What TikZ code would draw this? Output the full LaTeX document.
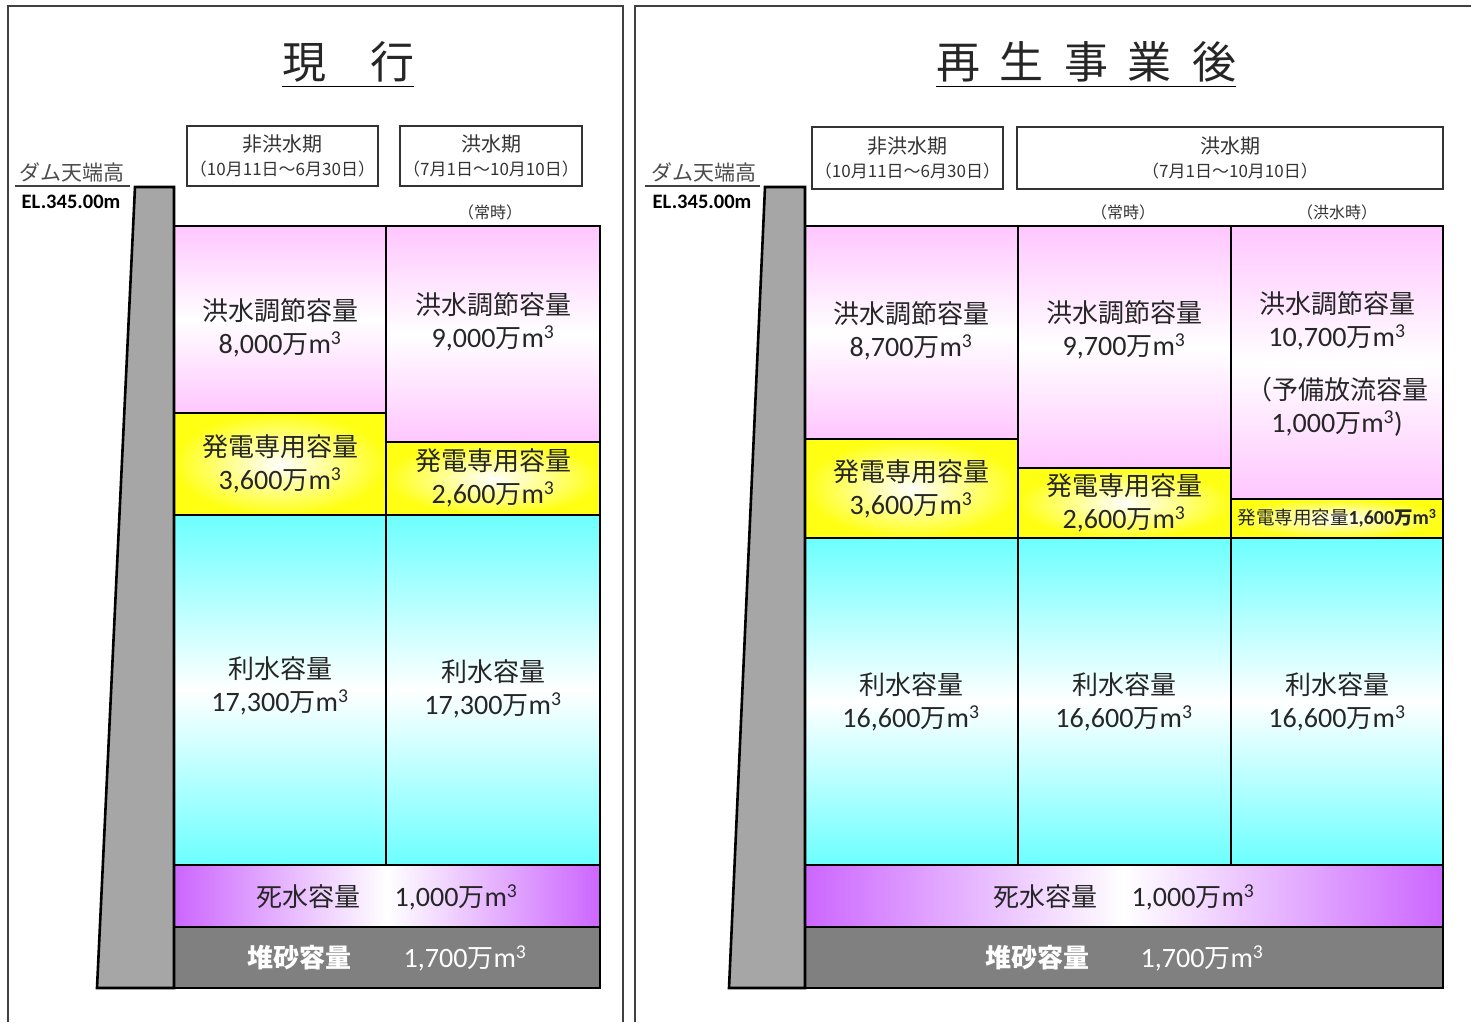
\documentclass[tikz,border=0pt]{standalone}
\usepackage{fontspec}
\setmainfont{Noto Sans CJK JP}
\newfontfamily\lat[Scale=1.08]{Carlito}
\usetikzlibrary{positioning}
\definecolor{floodpink}{HTML}{FFC6FF}
\definecolor{powyellow}{HTML}{FFFF14}
\definecolor{watercyan}{HTML}{6CFFFF}
\definecolor{deadpurple}{HTML}{CC66FF}
\definecolor{sedgray}{HTML}{808080}
\definecolor{damgray}{HTML}{A6A6A6}
\newcommand{\vol}[1]{{\lat #1}万{\lat m\textsuperscript{3}}}
\tikzset{
    frame/.style={draw=black!75, line width=1.5pt},
    cellbox/.style={draw=black, line width=2.6pt},
    flood/.style={cellbox, top color=floodpink, bottom color=floodpink, middle color=white},
    power/.style={cellbox, inner color=white, outer color=powyellow},
    water/.style={cellbox, top color=watercyan, bottom color=watercyan, middle color=white},
    dead/.style={cellbox, left color=deadpurple, right color=deadpurple, middle color=white},
    sediment/.style={cellbox, fill=sedgray},
    dam/.style={draw=black, line width=2.6pt, fill=damgray},
    vlabel/.style={font=\fontsize{26}{33}\selectfont, text=black!85, align=center, inner sep=0pt},
    sedlabel/.style={vlabel, text=white},
    season/.style={draw=black!80, line width=1.5pt, align=center, inner sep=0pt,
                   font=\fontsize{20}{24}\selectfont, text=black!80},
    ttl/.style={font=\fontsize{44}{44}\selectfont, inner sep=0pt, text=black!85},
    note/.style={font=\fontsize{16}{18}\selectfont, inner sep=0pt, text=black!80},
    crest/.style={font=\fontsize{21}{24}\selectfont, inner sep=0pt, text=black!70},
    elev/.style={font=\lat\bfseries\fontsize{19}{22}\selectfont, inner sep=0pt}}
\newcommand{\dates}[1]{{\fontsize{17}{20}\selectfont #1}}

\begin{document}
\begin{tikzpicture}[x=1pt, y=-1pt]
    \useasboundingbox (0,0) rectangle (1471,1022);

    % panels
    \draw[frame] (8,1022) -- (8,6) -- (623,6) -- (623,1022);
    \draw[frame] (635,1022) -- (635,6) -- (1471,6);

    %%% current
    \node[ttl] (ttlnow) at (348,62) {現　行};
    \draw[line width=1.5pt] ([yshift=-4pt]ttlnow.south west) -- ([yshift=-4pt]ttlnow.south east);

    \node[season, minimum width=191, minimum height=60] (dry1) at (282.5,156)
        {非洪水期\\\dates{（10月11日～6月30日）}};
    \node[season, minimum width=182, minimum height=60] (wet1) at (491,156)
        {洪水期\\\dates{（7月1日～10月10日）}};
    \node[note] (normal1) at (490,212) {（常時）};

    \node[crest] (crest1) at (72,172) {ダム天端高};
    \coordinate (cl1) at (15,186);
    \coordinate (cr1) at (130,186);
    \draw[line width=1.5pt, black!75] (cl1) -- (cr1);
    \node[elev] (el1) at (71,202) {EL.345.00m};

    \draw[flood] (174,226) rectangle (386,413);
    \draw[power] (174,413) rectangle (386,515);
    \draw[water] (174,515) rectangle (386,865);
    \draw[flood] (386,226) rectangle (600,442);
    \draw[power] (386,442) rectangle (600,515);
    \draw[water] (386,515) rectangle (600,865);
    \draw[dead] (174,865) rectangle (600,927);
    \draw[sediment] (174,927) rectangle (600,988);
    \draw[dam] (135,187) -- (174,187) -- (174,988) -- (97,988) -- cycle;

    \node[vlabel] (fl1) at (280,328) {洪水調節容量\\\vol{8,000}};
    \node[vlabel] (fl2) at (493,322) {洪水調節容量\\\vol{9,000}};
    \node[vlabel] (pw1) at (280,464) {発電専用容量\\\vol{3,600}};
    \node[vlabel] (pw2) at (493,478) {発電専用容量\\\vol{2,600}};
    \node[vlabel] (wt1) at (280,686) {利水容量\\\vol{17,300}};
    \node[vlabel] (wt2) at (493,689) {利水容量\\\vol{17,300}};
    \node[vlabel] (dd1) at (308,897) {死水容量};
    \node[vlabel] (ddv1) at (456,897) {\vol{1,000}};
    \node[sedlabel, font=\bfseries\fontsize{26}{33}\selectfont] (sd1) at (299,958) {堆砂容量};
    \node[sedlabel] (sdv1) at (465,958) {\vol{1,700}};

    %%% after rehabilitation
    \node[ttl] (ttlnew) at (1086,62)
        {再\hspace{20pt}生\hspace{20pt}事\hspace{20pt}業\hspace{20pt}後};
    \draw[line width=1.5pt] ([yshift=-4pt]ttlnew.south west) -- ([yshift=-4pt]ttlnew.south east);

    \node[season, minimum width=191, minimum height=62] (dry2) at (907.5,158)
        {非洪水期\\\dates{（10月11日～6月30日）}};
    \node[season, minimum width=426, minimum height=62] (wet2) at (1230,158)
        {洪水期\\\dates{（7月1日～10月10日）}};
    \node[note] (normal2) at (1123,212) {（常時）};
    \node[note] (flooding2) at (1337,212) {（洪水時）};

    \node[crest] (crest2) at (704,172) {ダム天端高};
    \coordinate (cl2) at (645,186);
    \coordinate (cr2) at (760,186);
    \draw[line width=1.5pt, black!75] (cl2) -- (cr2);
    \node[elev] (el2) at (702,202) {EL.345.00m};

    \draw[flood] (805,226) rectangle (1018,439);
    \draw[power] (805,439) rectangle (1018,538);
    \draw[water] (805,538) rectangle (1018,865);
    \draw[flood] (1018,226) rectangle (1231,468);
    \draw[power] (1018,468) rectangle (1231,538);
    \draw[water] (1018,538) rectangle (1231,865);
    \draw[flood] (1231,226) rectangle (1443,499);
    \draw[power] (1231,499) rectangle (1443,538);
    \draw[water] (1231,538) rectangle (1443,865);
    \draw[dead] (805,865) rectangle (1443,927);
    \draw[sediment] (805,927) rectangle (1443,988);
    \draw[dam] (765,187) -- (805,187) -- (805,988) -- (729,988) -- cycle;

    \node[vlabel] (fl3) at (911,331) {洪水調節容量\\\vol{8,700}};
    \node[vlabel] (fl4) at (1124,330) {洪水調節容量\\\vol{9,700}};
    \node[vlabel] (fl5) at (1337,321) {洪水調節容量\\\vol{10,700}};
    \node[vlabel] (rsv5) at (1337,407) {（予備放流容量\\\vol{1,000}{\lat )}};
    \node[vlabel] (pw3) at (911,489) {発電専用容量\\\vol{3,600}};
    \node[vlabel] (pw4) at (1124,503) {発電専用容量\\\vol{2,600}};
    \node[vlabel, font=\fontsize{18.5}{20}\selectfont] (pw5) at (1337,518)
        {発電専用容量{\bfseries\vol{1,600}}};
    \node[vlabel] (wt3) at (911,702) {利水容量\\\vol{16,600}};
    \node[vlabel] (wt4) at (1124,702) {利水容量\\\vol{16,600}};
    \node[vlabel] (wt5) at (1337,702) {利水容量\\\vol{16,600}};
    \node[vlabel] (dd2) at (1045,897) {死水容量};
    \node[vlabel] (ddv2) at (1193,897) {\vol{1,000}};
    \node[sedlabel, font=\bfseries\fontsize{26}{33}\selectfont] (sd2) at (1037,958) {堆砂容量};
    \node[sedlabel] (sdv2) at (1202,958) {\vol{1,700}};
\end{tikzpicture}
\end{document}
